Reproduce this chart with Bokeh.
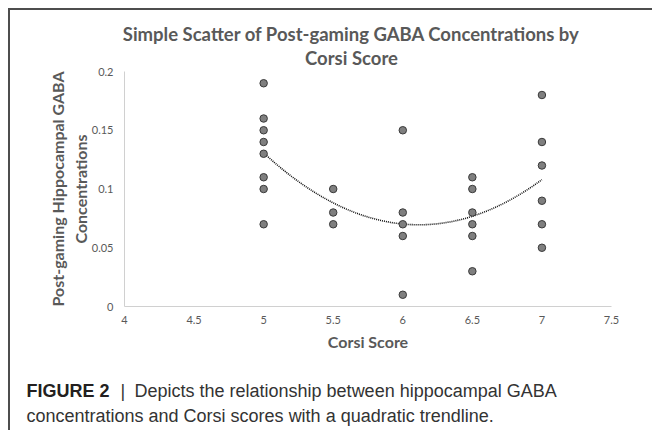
import numpy as np
from bokeh.plotting import figure
from bokeh.models import Range1d, FixedTicker
from bokeh.layouts import column
from bokeh.core.properties import value
from bokeh.embed import file_html
from bokeh.resources import INLINE

# ---- data ----
corsi_scores = [5, 5, 5, 5, 5, 5, 5, 5,
                5.5, 5.5, 5.5,
                6, 6, 6, 6, 6,
                6.5, 6.5, 6.5, 6.5, 6.5, 6.5,
                7, 7, 7, 7, 7, 7]
gaba_conc = [0.19, 0.16, 0.15, 0.14, 0.13, 0.11, 0.10, 0.07,
             0.10, 0.08, 0.07,
             0.15, 0.08, 0.07, 0.06, 0.01,
             0.11, 0.10, 0.08, 0.07, 0.06, 0.03,
             0.18, 0.14, 0.12, 0.09, 0.07, 0.05]

x_ticks = [4, 4.5, 5, 5.5, 6, 6.5, 7, 7.5]
x_tick_labels = ["4", "4.5", "5", "5.5", "6", "6.5", "7", "7.5"]
y_ticks = [0, 0.05, 0.1, 0.15, 0.2]
y_tick_labels = ["0", "0.05", "0.1", "0.15", "0.2"]

title_lines = ["Simple Scatter of Post-gaming GABA Concentrations by", "Corsi Score"]
x_label = "Corsi Score"
y_label = "Post-gaming Hippocampal GABA\nConcentrations"
caption_bold = "FIGURE 2"
caption_bar = "|"
caption_line1 = "Depicts the relationship between hippocampal GABA"
caption_line2 = "concentrations and Corsi scores with a quadratic trendline."

# quadratic trendline fitted to the data
coef = np.polyfit(corsi_scores, gaba_conc, 2)
trend_x = np.linspace(min(corsi_scores), max(corsi_scores), 80)
trend_y = np.polyval(coef, trend_x)

TXT = "#595959"
FONT = "Lato"
CAP = "Liberation Sans"
W = 642


def no_align(f):
    try:
        f.frame_align = False
    except Exception:
        pass
    return f


def text_panel(h):
    f = figure(width=W, height=h, x_range=Range1d(0, W), y_range=Range1d(h, 0),
               output_backend="svg", toolbar_location=None, min_border=0)
    f.axis.visible = False
    f.grid.visible = False
    f.outline_line_color = None
    return no_align(f)


# ---- title panel ----
tp = text_panel(61)
tp.text(x=[341, 341], y=[23, 47], text=title_lines, text_align="center",
        text_baseline="middle", text_font=value(FONT), text_font_style="bold",
        text_font_size="18.5px", text_color=TXT)

# ---- main chart (pulled up 7px so its top border tucks under the title panel) ----
p = figure(width=W, height=292,
           x_range=Range1d(4, 7.5), y_range=Range1d(0, 0.2),
           output_backend="svg", toolbar_location=None,
           min_border_left=114, min_border_right=41,
           min_border_top=7, min_border_bottom=50)
no_align(p)
p.margin = (-7, 0, 0, 0)
p.border_fill_alpha = 0
p.background_fill_alpha = 0
p.grid.visible = False
p.outline_line_color = None

p.xaxis.ticker = FixedTicker(ticks=x_ticks)
p.xaxis.major_label_overrides = {t: l for t, l in zip(x_ticks, x_tick_labels)}
p.yaxis.ticker = FixedTicker(ticks=y_ticks)
p.yaxis.major_label_overrides = {t: l for t, l in zip(y_ticks, y_tick_labels)}

for ax in (p.xaxis[0], p.yaxis[0]):
    ax.axis_line_color = "#d0d0d0"
    ax.axis_line_width = 1
    ax.major_tick_line_color = None
    ax.minor_tick_line_color = None
    ax.major_tick_out = 0
    ax.major_tick_in = 0
    ax.major_label_text_font = FONT
    ax.major_label_text_font_size = "11px"
    ax.major_label_text_color = TXT
    ax.axis_label_text_font = FONT
    ax.axis_label_text_font_style = "bold"
    ax.axis_label_text_font_size = "16px"
    ax.axis_label_text_color = TXT

p.xaxis.axis_label = x_label
p.xaxis.major_label_standoff = 9
p.xaxis.axis_label_standoff = 5
p.yaxis.axis_label = y_label
p.yaxis.major_label_standoff = 11
p.yaxis.axis_label_standoff = -1

p.line(trend_x, trend_y, line_color="#111111", line_width=1.6, line_dash="1 1")
p.scatter(corsi_scores, gaba_conc, size=7.5, fill_color="#7f7f7f",
          line_color="#3a3a3a", line_width=1)

# ---- caption panel ----
cp = text_panel(74)
cp.text(x=[16], y=[34], text=[caption_bold], text_align="left", text_baseline="middle",
        text_font=value(CAP), text_font_style="bold", text_font_size="18px",
        text_color="#231f20")
cp.text(x=[110, 124, 16], y=[34, 34, 59], text=[caption_bar, caption_line1, caption_line2],
        text_align="left", text_baseline="middle", text_font=value(CAP),
        text_font_size="18px", text_color="#333333")

layout = column(tp, p, cp, spacing=0)
layout.styles = {"margin-left": "8px", "margin-top": "8px",
                 "border-left": "2px solid #4d4d4d", "border-top": "2px solid #4d4d4d"}

open("out.html", "w").write(file_html(layout, INLINE))
